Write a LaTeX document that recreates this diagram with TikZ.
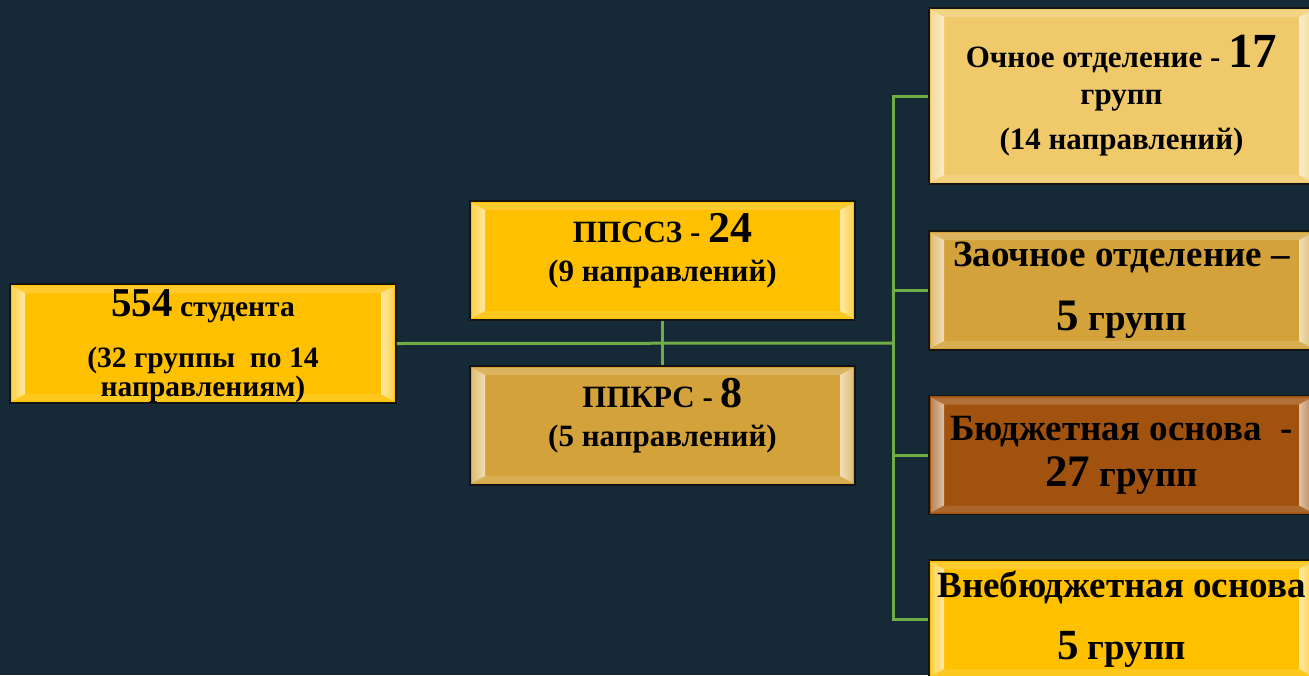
\documentclass[tikz,border=0pt]{standalone}
\usepackage{fontspec}
\setmainfont{Liberation Serif}
\definecolor{bg}{HTML}{152A36}
\definecolor{gold}{HTML}{FFC000}
\definecolor{ochre}{HTML}{D4A23A}
\definecolor{sand}{HTML}{F0CA6A}
\definecolor{rust}{HTML}{A0520E}
\definecolor{boxedge}{HTML}{141414}
\definecolor{linkgreen}{HTML}{70AD47}
\begin{document}
\begin{tikzpicture}[
  x=1pt, y=-1pt,
  boxnode/.style={rectangle, draw=boxedge, line width=1.5pt, fill=#1,
    minimum width=385pt, minimum height=119pt, inner sep=2pt, align=center,
    font=\bfseries\fontsize{31}{39}\selectfont,
    path picture={
      \path (path picture bounding box.north west) coordinate (pnw)
            (path picture bounding box.north east) coordinate (pne)
            (path picture bounding box.south west) coordinate (psw)
            (path picture bounding box.south east) coordinate (pse);
      \fill[#1!82!white] ([shift={(2pt,-2pt)}]pnw) -- ([shift={(15pt,-9pt)}]pnw)
        -- ([shift={(-15pt,-9pt)}]pne) -- ([shift={(-2pt,-2pt)}]pne) -- cycle;
      \fill[#1!88!white] ([shift={(2pt,2pt)}]psw) -- ([shift={(15pt,9pt)}]psw)
        -- ([shift={(-15pt,9pt)}]pse) -- ([shift={(-2pt,2pt)}]pse) -- cycle;
      \shade[left color=#1!70!white, right color=#1!35!white]
        ([shift={(2pt,-2pt)}]pnw) -- ([shift={(15pt,-9pt)}]pnw)
        -- ([shift={(15pt,9pt)}]psw) -- ([shift={(2pt,2pt)}]psw) -- cycle;
      \shade[left color=#1!35!white, right color=#1!70!white]
        ([shift={(-2pt,-2pt)}]pne) -- ([shift={(-15pt,-9pt)}]pne)
        -- ([shift={(-15pt,9pt)}]pse) -- ([shift={(-2pt,2pt)}]pse) -- cycle;
    }},
  link/.style={draw=linkgreen, line width=3pt},
]

\useasboundingbox (0,0) rectangle (1309,675);
\fill[bg] (0,0) rectangle (1309,675);

\node[boxnode=gold, minimum width=386pt, inner sep=0pt, font=\bfseries\fontsize{29.5}{29}\selectfont] (stud) at (203,343.5)
  {\rule{0pt}{32pt}{\fontsize{41}{44}\selectfont 554} студента\\[22pt](32 группы~ по 14\\направлениям)};

\node[boxnode=gold] (ppssz) at (662.5,260.5)
  {ППССЗ - {\fontsize{44}{48}\selectfont 24}\\(9 направлений)\rule[-27pt]{0pt}{27pt}};
\node[boxnode=ochre] (ppkrs) at (662.5,425.5)
  {ППКРС - {\fontsize{44}{48}\selectfont 8}\\(5 направлений)\rule[-27pt]{0pt}{27pt}};

\node[boxnode=sand, minimum height=176pt, font=\bfseries\fontsize{31}{37}\selectfont] (ochn) at (1121.5,96)
  {Очное отделение - {\fontsize{49}{50}\selectfont 17}\\групп\\[8pt](14 направлений)};
\node[boxnode=ochre, font=\bfseries\fontsize{37}{44}\selectfont] (zaoch) at (1121.5,290.5)
  {Заочное отделение –\\[20pt]{\fontsize{45}{48}\selectfont 5} групп};
\node[boxnode=rust, font=\bfseries\fontsize{37}{46}\selectfont] (budg) at (1121.5,455)
  {Бюджетная основа~ -\\{\fontsize{45}{48}\selectfont 27} групп};
\node[boxnode=gold, minimum height=118pt, font=\bfseries\fontsize{37}{44}\selectfont] (vnebudg) at (1121.5,619)
  {Внебюджетная основа\\[18pt]{\fontsize{43}{46}\selectfont 5} групп};

\coordinate (bus) at (893,343);

\draw[link] (stud.east) -- (bus);
\draw[link] (ppssz) -- (ppkrs);
\draw[link] (ochn.west) -| (bus);
\draw[link] (zaoch.west) -| (bus);
\draw[link] (budg.west) -| (bus);
\draw[link] (vnebudg.west) -| (bus);

\end{tikzpicture}
\end{document}
